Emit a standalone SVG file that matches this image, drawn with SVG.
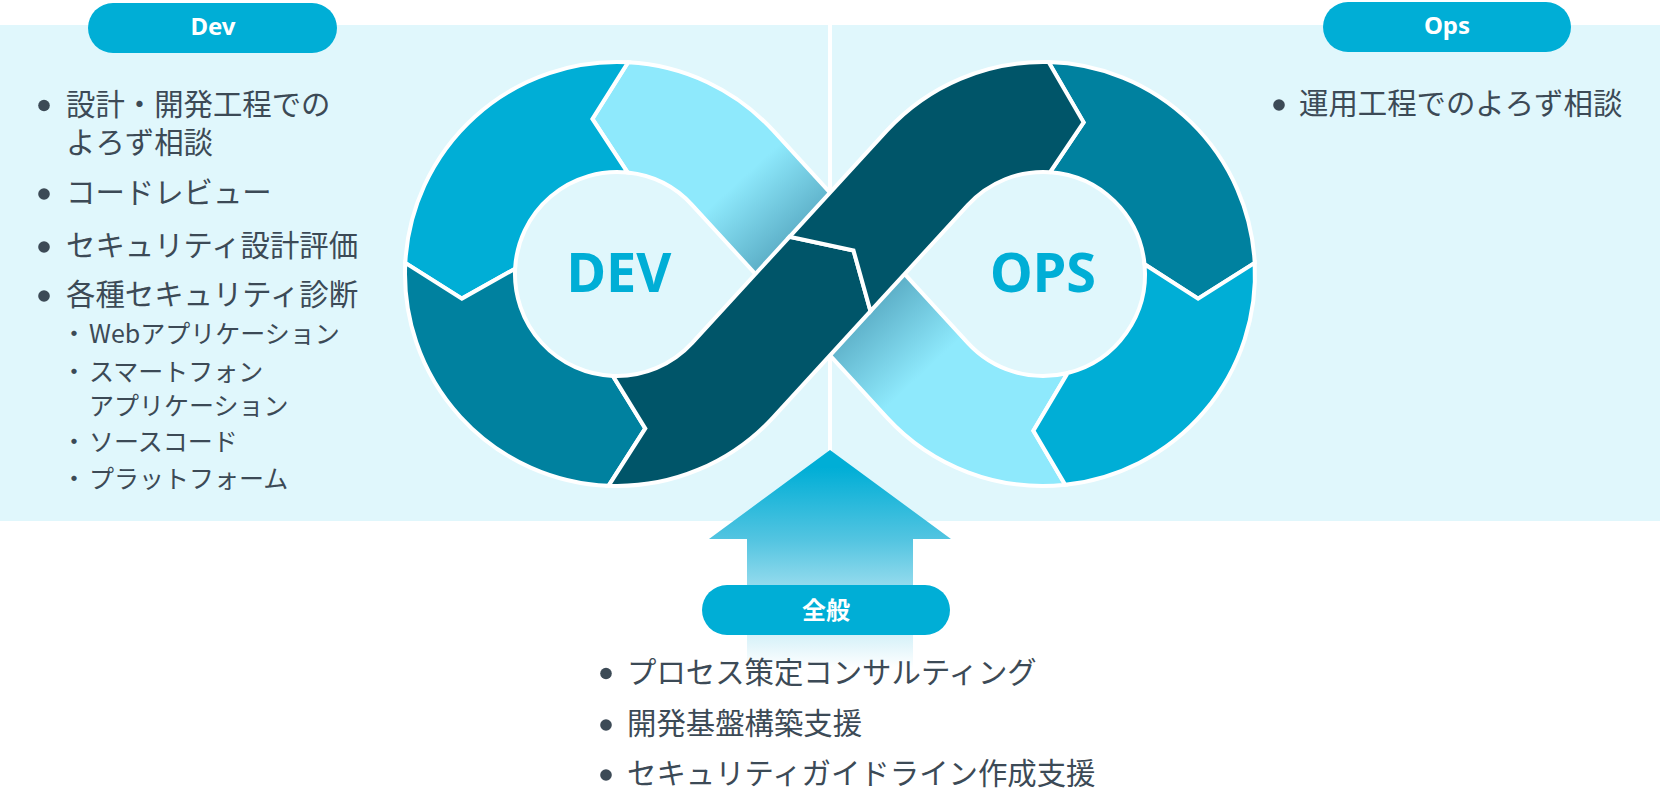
<svg xmlns="http://www.w3.org/2000/svg" width="1660" height="812" viewBox="0 0 1660 812">
  <defs>
    <linearGradient id="gArrow" gradientUnits="userSpaceOnUse" x1="0" y1="450" x2="0" y2="668">
      <stop offset="0.08" stop-color="#00AED6"/>
      <stop offset="0.42" stop-color="#55C5E1"/>
      <stop offset="0.72" stop-color="#B2E5F3"/>
      <stop offset="1" stop-color="#FFFFFF"/>
    </linearGradient>
    <linearGradient id="gLcL" gradientUnits="userSpaceOnUse" x1="793" y1="234" x2="742" y2="178">
      <stop offset="0" stop-color="#5FB2CA"/>
      <stop offset="1" stop-color="#8EE9FC"/>
    </linearGradient>
    <linearGradient id="gLcR" gradientUnits="userSpaceOnUse" x1="867" y1="315" x2="922" y2="374">
      <stop offset="0" stop-color="#5FB2CA"/>
      <stop offset="1" stop-color="#8EE9FC"/>
    </linearGradient>
    <style>
      .seg { stroke: #FFFFFF; stroke-width: 4; stroke-linejoin: miter; }
      .cyan { fill: #00AED6; }
      .teal { fill: #00819F; }
      .dark { fill: #005569; }
      .pill { fill: #00AED6; }
      .pilltxt { font-family: "Noto Sans", "Noto Sans CJK JP", sans-serif; font-weight: bold; font-size: 24px; fill: #FFFFFF; text-anchor: middle; }
      .big { font-family: "Noto Sans", "Liberation Sans", sans-serif; font-weight: bold; font-size: 54px; fill: #00AED6; text-anchor: middle; }
      .t { font-family: "Noto Sans CJK JP", "Noto Sans", sans-serif; font-size: 29.4px; fill: #3C4A56; }
      .s { font-family: "Noto Sans CJK JP", "Noto Sans", sans-serif; font-size: 25px; fill: #3C4A56; }
      .dot { fill: #3C4A56; }
    </style>
  </defs>

  <g id="background">
    <rect x="0" y="0" width="1660" height="812" fill="#FFFFFF"/>
    <rect x="0" y="25" width="1660" height="496" fill="#E0F7FC"/>
    <line x1="830" y1="25" x2="830" y2="521" stroke="#FFFFFF" stroke-width="4"/>
  </g>

  <g id="connectors">
    <polygon id="arrow-general" points="830,450 951,539 913,539 913,668 747,668 747,539 709,539" fill="url(#gArrow)"/>
  </g>

  <g id="infinity">
    <g id="seg-dev-light">
      <path class="seg" fill="url(#gLcL)" d="M870.5,236.8 L773.3,130.7 A212,212 0 0 0 628.1,62.3 L592.4,118.9 L627.7,172.6 A102,102 0 0 1 692.2,205.1 L789.5,311.2 Z"/>
    </g>
    <g id="seg-ops-light">
      <path class="seg" fill="url(#gLcR)" d="M1065.2,484.8 A212,212 0 0 1 886.7,417.3 L789.5,311.2 L870.5,236.8 L967.8,342.9 A102,102 0 0 0 1067.7,373 L1033.4,430.7 Z"/>
    </g>
    <g id="seg-dev-cyan">
      <path class="seg cyan" d="M628.1,62.3 A212,212 0 0 0 405.3,262.9 L461.9,298.6 L515.1,268.7 A102,102 0 0 1 627.7,172.6 L592.4,118.9 Z"/>
    </g>
    <g id="seg-dev-teal">
      <path class="seg teal" d="M405.3,262.9 A212,212 0 0 0 608.5,485.8 L645.3,428.4 L612.9,375.9 A102,102 0 0 1 515.1,268.7 L461.9,298.6 Z"/>
    </g>
    <g id="seg-ops-teal">
      <path class="seg teal" d="M1048.6,62.1 A212,212 0 0 1 1254.7,262.9 L1198.1,298.6 L1144.5,264.2 A102,102 0 0 0 1050.1,172.2 L1083.6,122.3 Z"/>
    </g>
    <g id="seg-ops-cyan">
      <path class="seg cyan" d="M1254.7,262.9 A212,212 0 0 1 1065.2,484.8 L1033.4,430.7 L1067.7,373 A102,102 0 0 0 1144.5,264.2 L1198.1,298.6 Z"/>
    </g>
    <g id="seg-dev-dark">
      <path class="seg dark" d="M608.5,485.8 A212,212 0 0 0 773.2,417.3 L870.5,311.2 L853.5,250.5 L789.5,236.8 L692.2,342.9 A102,102 0 0 1 612.9,375.9 L645.3,428.4 Z"/>
    </g>
    <g id="seg-ops-dark">
      <path class="seg dark" d="M789.5,236.8 L886.8,130.7 A212,212 0 0 1 1048.6,62.1 L1083.6,122.3 L1050.1,172.2 A102,102 0 0 0 967.8,205.1 L870.5,311.2 L853.5,250.5 Z"/>
    </g>
    <g id="label-dev">
      <text class="big" x="619" y="292">DEV</text>
    </g>
    <g id="label-ops">
      <text class="big" x="1043" y="292">OPS</text>
    </g>
  </g>

  <g id="node-dev-pill">
    <rect class="pill" x="88" y="3" width="249" height="50" rx="25" ry="25"/>
    <text class="pilltxt" x="213" y="35">Dev</text>
  </g>

  <g id="node-ops-pill">
    <rect class="pill" x="1323" y="2" width="248" height="50" rx="25" ry="25"/>
    <text class="pilltxt" x="1447" y="34">Ops</text>
  </g>

  <g id="node-general-pill">
    <rect class="pill" x="702" y="585" width="248" height="50" rx="25" ry="25"/>
    <text class="pilltxt" x="826" y="619" style="font-family: 'Noto Sans CJK JP', sans-serif; font-size: 24px;">全般</text>
  </g>

  <g id="node-dev-list">
    <circle class="dot" cx="44" cy="105.5" r="5.8"/>
    <text class="t" x="66" y="115"><tspan x="66" y="115">設計・開発工程での</tspan><tspan x="66" y="152.5">よろず相談</tspan></text>
    <circle class="dot" cx="44" cy="194" r="5.8"/>
    <text class="t" x="66" y="203">コードレビュー</text>
    <circle class="dot" cx="44" cy="247" r="5.8"/>
    <text class="t" x="66" y="256">セキュリティ設計評価</text>
    <circle class="dot" cx="44" cy="296" r="5.8"/>
    <text class="t" x="66" y="305">各種セキュリティ診断</text>
    <text class="s" x="74" y="342.5" text-anchor="middle">・</text>
    <text class="s" x="89" y="342.5">Webアプリケーション</text>
    <text class="s" x="74" y="381" text-anchor="middle">・</text>
    <text class="s" x="89" y="381"><tspan x="89" y="381">スマートフォン</tspan><tspan x="89" y="415">アプリケーション</tspan></text>
    <text class="s" x="74" y="451" text-anchor="middle">・</text>
    <text class="s" x="89" y="451">ソースコード</text>
    <text class="s" x="74" y="487.5" text-anchor="middle">・</text>
    <text class="s" x="89" y="487.5">プラットフォーム</text>
  </g>

  <g id="node-ops-list">
    <circle class="dot" cx="1279" cy="105" r="5.8"/>
    <text class="t" x="1299" y="114">運用工程でのよろず相談</text>
  </g>

  <g id="node-general-list">
    <circle class="dot" cx="606" cy="673.5" r="5.8"/>
    <text class="t" x="627" y="682.7">プロセス策定コンサルティング</text>
    <circle class="dot" cx="606" cy="725" r="5.8"/>
    <text class="t" x="627" y="734.3">開発基盤構築支援</text>
    <circle class="dot" cx="606" cy="775" r="5.8"/>
    <text class="t" x="627" y="784.3">セキュリティガイドライン作成支援</text>
  </g>
</svg>
